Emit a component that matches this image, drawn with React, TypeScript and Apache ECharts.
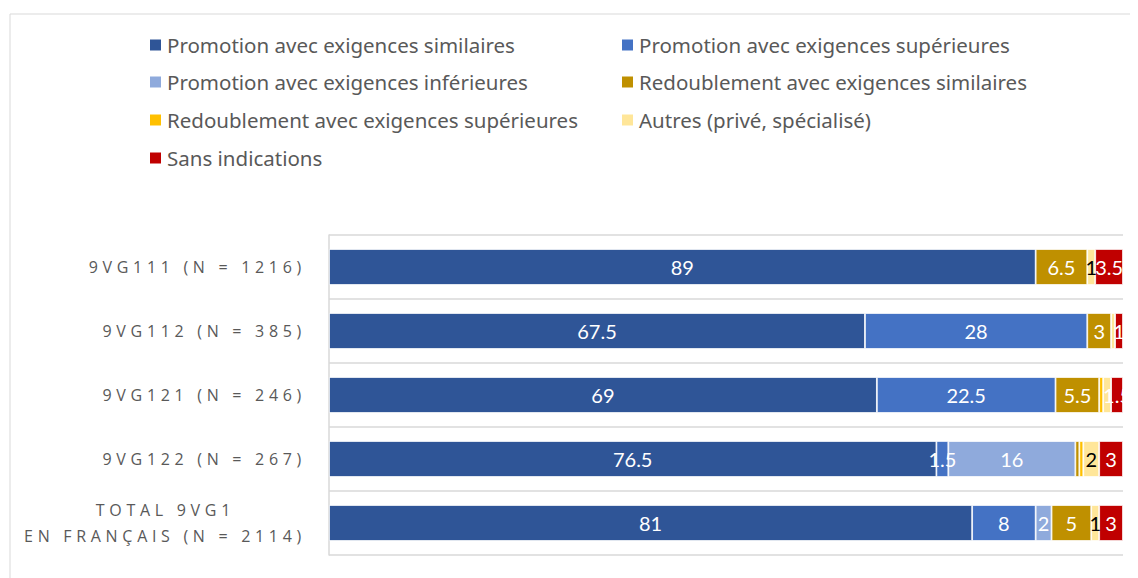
import React, { useEffect, useRef } from "react";
import * as echarts from "echarts";

const categories = [
  "9VG111 (N = 1216)",
  "9VG112 (N = 385)",
  "9VG121 (N = 246)",
  "9VG122 (N = 267)",
  "TOTAL 9VG1\nEN FRANÇAIS (N = 2114)",
];

const seriesNames = [
  "Promotion avec exigences similaires",
  "Promotion avec exigences supérieures",
  "Promotion avec exigences inférieures",
  "Redoublement avec exigences similaires",
  "Redoublement avec exigences supérieures",
  "Autres (privé, spécialisé)",
  "Sans indications",
];

const promoSim = [89, 67.5, 69, 76.5, 81];
const promoSup = [0, 28, 22.5, 1.5, 8];
const promoInf = [0, 0, 0, 16, 2];
const redSim = [6.5, 3, 5.5, 0.5, 5];
const redSup = [0, 0, 0.5, 0.5, 0];
const autres = [1, 0.5, 1, 2, 1];
const sans = [3.5, 1, 1.5, 3, 3];

const seriesValues = [promoSim, promoSup, promoInf, redSim, redSup, autres, sans];
const colors = ["#2F5597", "#4472C4", "#8FAADC", "#BF9000", "#FFC000", "#FFE699", "#C00000"];
const labelColors = ["#fff", "#fff", "#fff", "#fff", "#000", "#000", "#fff"];
// [seriesIndex, categoryIndex] of labels not shown in the original
const hiddenLabels = [[5, 2]];

export default function App() {
  const ref = useRef<HTMLDivElement>(null);
  useEffect(() => {
    if (!ref.current) return;
    const chart = echarts.init(ref.current, undefined, { renderer: "svg" });
    const legendPos = [
      [140, 37], [612, 37],
      [140, 74], [612, 74],
      [140, 112], [612, 112],
      [140, 150],
    ];
    const legends = seriesNames.map((name, i) => ({
      data: [name],
      left: legendPos[i][0],
      top: legendPos[i][1] - 12,
      padding: 0,
      itemWidth: 13,
      itemHeight: 13,
      icon: "rect",
      selectedMode: false,
      textStyle: { fontFamily: "Noto Sans", fontSize: 20.5, color: "#595959", lineHeight: 24 },
    }));
    const series = seriesNames.map((name, si) => ({
      name,
      type: "bar",
      stack: "total",
      barWidth: 36,
      itemStyle: { color: colors[si], borderColor: "#ffffff", borderWidth: 0.8 },
      label: {
        show: true,
        position: "inside",
        color: labelColors[si],
        fontFamily: "Lato",
        fontSize: 20,
        formatter: (p: any) => {
          const hidden = hiddenLabels.some((h) => h[0] === si && h[1] === p.dataIndex);
          if (hidden || !p.value || p.value < 1) return "";
          return String(p.value);
        },
      },
      data: seriesValues[si].map((v) => (v === 0 ? null : v)),
    }));
    chart.setOption({
      animation: false,
      legend: legends,
      grid: { left: 321, right: 15, top: 227, bottom: 23, containLabel: false },
      xAxis: { type: "value", min: 0, max: 100, show: false },
      yAxis: {
        type: "category",
        inverse: true,
        data: categories,
        axisLine: { show: true, lineStyle: { color: "#d9d9d9", width: 1.5 } },
        axisTick: { show: false },
        splitLine: { show: true, lineStyle: { color: "#d9d9d9", width: 1.5 } },
        axisLabel: {
          margin: 23,
          color: "#595959",
          fontFamily: "Open Sans",
          fontSize: 16,
          lineHeight: 26,
          formatter: (v: string) => {
            const parts = v.split("\n");
            if (parts.length === 1) return v;
            return "{a|" + parts[0] + "}\n{b|" + parts[1] + "}";
          },
          rich: {
            a: { fontFamily: "Open Sans", fontSize: 16, color: "#595959", padding: [0, 71, 0, 0], lineHeight: 26 },
            b: { fontFamily: "Open Sans", fontSize: 16, color: "#595959", lineHeight: 26 },
          },
        },
      },
      graphic: [
        {
          type: "rect",
          z: -10,
          shape: { x: 2, y: 6, width: 1140, height: 580 },
          style: { fill: "none", stroke: "#d9d9d9", lineWidth: 1 },
          silent: true,
        },
      ],
      series,
    });
    return () => chart.dispose();
  }, []);
  return (
    <>
      <style>{`#chart text[style*="Open Sans"] { letter-spacing: 4.7px; }`}</style>
      <div id="chart" ref={ref} style={{ width: 1130, height: 570 }} />
    </>
  );
}
